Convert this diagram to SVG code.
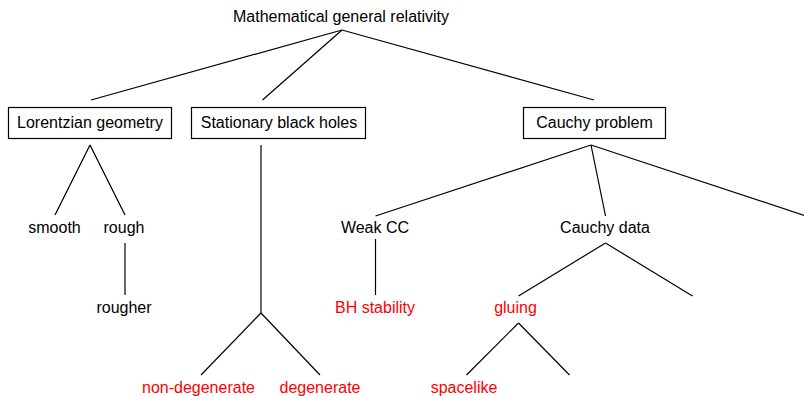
<svg xmlns="http://www.w3.org/2000/svg" width="804" height="396" viewBox="0 0 804 396">
<style>
text{font-family:"Liberation Sans",Arial,sans-serif;font-size:16px;text-anchor:middle;fill:#000}
.red{fill:#ff0000}
.box{fill:#fff;stroke:#000;stroke-width:1.2}
#connectors line{stroke:#000;stroke-width:1.2;fill:none}
</style>
<rect width="804" height="396" fill="#fff"/>
<g id="connectors">
<line x1="342" y1="30" x2="91" y2="100"/>
<line x1="342" y1="30" x2="262.5" y2="100"/>
<line x1="342" y1="30" x2="594" y2="100"/>
<line x1="90" y1="145" x2="55" y2="215"/>
<line x1="90" y1="145" x2="125" y2="215"/>
<line x1="125" y1="243" x2="125" y2="295"/>
<line x1="261" y1="145" x2="261" y2="313"/>
<line x1="261" y1="313" x2="201" y2="375"/>
<line x1="261" y1="313" x2="320" y2="375"/>
<line x1="591" y1="145" x2="375.5" y2="216"/>
<line x1="591" y1="145" x2="605.5" y2="216"/>
<line x1="591" y1="145" x2="806" y2="216"/>
<line x1="375.5" y1="239" x2="375.5" y2="295"/>
<line x1="605.5" y1="243" x2="518.5" y2="296"/>
<line x1="605.5" y1="243" x2="692.5" y2="296"/>
<line x1="518.5" y1="323" x2="466.5" y2="375"/>
<line x1="518.5" y1="323" x2="569.5" y2="375"/>
</g>
<g id="root"><text x="341" y="22">Mathematical general relativity</text></g>
<g id="lorentzian"><rect class="box" x="8.5" y="107.5" width="163" height="31"/><text x="90" y="128">Lorentzian geometry</text></g>
<g id="stationary"><rect class="box" x="191.5" y="107.5" width="174" height="31"/><text x="279" y="128">Stationary black holes</text></g>
<g id="cauchy"><rect class="box" x="523.5" y="107.5" width="142" height="31"/><text x="594.5" y="128">Cauchy problem</text></g>
<g id="smooth"><text x="54.5" y="233">smooth</text></g>
<g id="rough"><text x="124" y="233">rough</text></g>
<g id="rougher"><text x="124" y="313">rougher</text></g>
<g id="weakcc"><text x="375" y="233">Weak CC</text></g>
<g id="cauchydata"><text x="605" y="233">Cauchy data</text></g>
<g id="bhstability"><text class="red" x="375" y="313">BH stability</text></g>
<g id="gluing"><text class="red" x="515.5" y="313">gluing</text></g>
<g id="nondegenerate"><text class="red" x="198.5" y="393">non-degenerate</text></g>
<g id="degenerate"><text class="red" x="320" y="393">degenerate</text></g>
<g id="spacelike"><text class="red" x="464" y="393">spacelike</text></g>
</svg>
